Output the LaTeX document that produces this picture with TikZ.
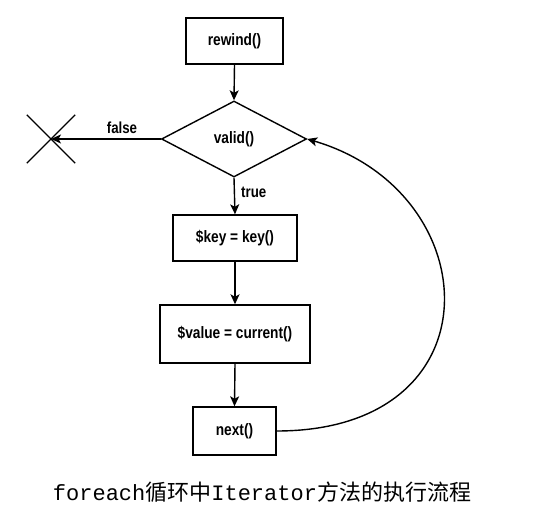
\documentclass[tikz,border=0pt]{standalone}
\usepackage{fontspec}
\usetikzlibrary{shapes.geometric,shapes.misc,arrows.meta}
\newfontfamily\boxfont[FakeStretch=0.83]{Liberation Sans Bold}
\newfontfamily\captiontt{Liberation Mono}
\newfontfamily\captioncjk{Noto Sans CJK SC}

\newlength{\du}
\setlength{\du}{1pt}

\tikzset{
  flowline/.style={line width=1.4\du, draw=black},
  flowarrow/.style={flowline, -{Stealth[length=10pt,width=9pt,inset=2.5pt]}},
  stepbox/.style={draw, flowline, rectangle, inner sep=0pt, font=\boxfont\fontsize{16.5}{19}\selectfont},
  testbox/.style={draw, flowline, diamond, inner sep=0pt, font=\boxfont\fontsize{16.5}{19}\selectfont},
  edgelabel/.style={inner sep=0pt, font=\boxfont\fontsize{16}{19}\selectfont},
}

\begin{document}
\begin{tikzpicture}
\pgftransformxscale{1.000000}
\pgftransformyscale{-1.000000}
\useasboundingbox (0\du,0\du) rectangle (547\du,510\du);
% boxes
\node[stepbox, minimum width=97\du, minimum height=46\du] (rewind) at (234.5\du,41\du){rewind()};
\node[testbox, minimum width=145\du, minimum height=76\du] (valid) at (234\du,139\du){valid()};
\node[stepbox, minimum width=124\du, minimum height=46\du] (key) at (235\du,238\du){\$key = key()};
\node[stepbox, minimum width=150\du, minimum height=58\du] (value) at (235\du,334\du){\$value = current()};
\node[stepbox, minimum width=83\du, minimum height=48\du] (next) at (234.5\du,431\du){next()};
\node[cross out, draw, flowline, minimum size=47\du, inner sep=0pt] (stop) at (51\du,139\du){};
% arrows
\draw[flowarrow] (rewind.south)--(valid.north);
\draw[flowarrow] (valid.west)--(stop.center);
\draw[flowarrow] (valid.south)--(key.north);
\draw[flowarrow] (key.south)--(value.north);
\draw[flowarrow] (value.south)--(next.north);
\draw[flowarrow] (next.east) .. controls (500\du,431\du) and (488\du,192\du) .. (valid.east);
% labels
\node[edgelabel] (falselabel) at (122\du,128\du){false};
\node[edgelabel, anchor=west] (truelabel) at (241\du,192\du){true};
\node[inner sep=0pt] (caption) at (262\du,492\du){\fontsize{22}{26}\selectfont\captiontt foreach\captioncjk 循环中\captiontt Iterator\captioncjk 方法的执行流程};
\end{tikzpicture}
\end{document}
